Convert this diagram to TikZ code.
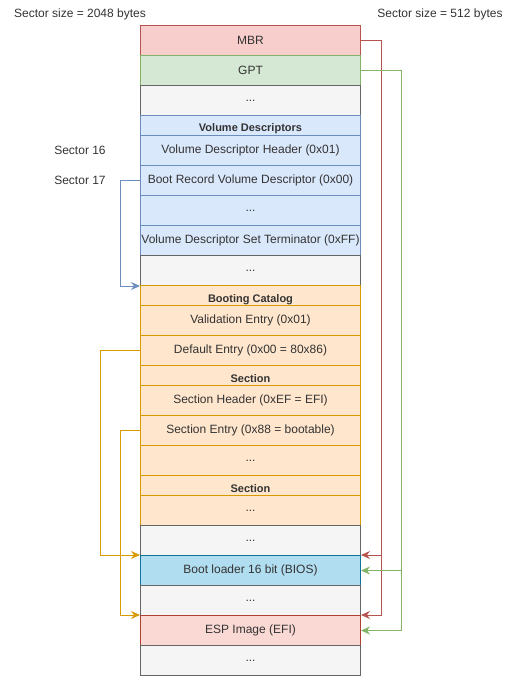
\documentclass[tikz,border=0pt]{standalone}
\usepackage{fontspec}
\setmainfont{Liberation Sans}
\usetikzlibrary{arrows.meta}
\definecolor{txt}{HTML}{333333}
\definecolor{redF}{HTML}{F8CECC}\definecolor{redS}{HTML}{B85450}
\definecolor{grnF}{HTML}{D5E8D4}\definecolor{grnS}{HTML}{82B366}
\definecolor{gryF}{HTML}{F5F5F5}\definecolor{gryS}{HTML}{666666}
\definecolor{bluF}{HTML}{DAE8FC}\definecolor{bluS}{HTML}{6C8EBF}
\definecolor{orgF}{HTML}{FFE6CC}\definecolor{orgS}{HTML}{D79B00}
\definecolor{cyaF}{HTML}{B1DDF0}\definecolor{cyaS}{HTML}{10739E}
\definecolor{espF}{HTML}{FAD9D5}\definecolor{espS}{HTML}{AE4132}
\tikzset{
  row/.style={rectangle, anchor=north west, minimum width=220pt, minimum height=30pt,
    inner sep=0pt, line width=1pt, text=txt, font=\fontsize{12}{14}\selectfont},
  hdr/.style={row, minimum height=20pt, text height=13pt, text depth=0pt,
    font=\fontsize{11}{13}\selectfont\bfseries},
  rowred/.style={fill=redF, draw=redS},
  rowgrn/.style={fill=grnF, draw=grnS},
  rowgry/.style={fill=gryF, draw=gryS},
  rowblu/.style={fill=bluF, draw=bluS},
  roworg/.style={fill=orgF, draw=orgS},
  rowcya/.style={fill=cyaF, draw=cyaS},
  rowesp/.style={fill=espF, draw=espS},
  lbl/.style={text=txt, font=\fontsize{12}{14}\selectfont, inner sep=0pt},
  conn/.style={line width=1pt, -{Stealth[length=9pt,width=8pt,inset=3pt]}},
}
\begin{document}
\begin{tikzpicture}[x=1pt,y=-1pt]
\useasboundingbox (0,0) rectangle (516,676);
\node[row,rowred] (mbr) at (140,25) {MBR};
\node[row,rowgrn] (gpt) at (140,55) {GPT};
\node[row,rowgry] (g1) at (140,85) {...};
\node[hdr,rowblu] (vdh) at (140,115) {Volume Descriptors};
\node[row,rowblu] (vd1) at (140,135) {Volume Descriptor Header (0x01)};
\node[row,rowblu] (vd2) at (140,165) {Boot Record Volume Descriptor (0x00)};
\node[row,rowblu] (vd3) at (140,195) {...};
\node[row,rowblu] (vd4) at (140,225) {Volume Descriptor Set Terminator (0xFF)};
\node[row,rowgry] (g2) at (140,255) {...};
\node[hdr,roworg] (bch) at (140,285) {Booting Catalog};
\node[row,roworg] (ve) at (140,305) {Validation Entry (0x01)};
\node[row,roworg] (de) at (140,335) {Default Entry (0x00 = 80x86)};
\node[hdr,roworg] (sh1) at (140,365) {Section};
\node[row,roworg] (shd) at (140,385) {Section Header (0xEF = EFI)};
\node[row,roworg] (se) at (140,415) {Section Entry (0x88 = bootable)};
\node[row,roworg] (sd1) at (140,445) {...};
\node[hdr,roworg] (sh2) at (140,475) {Section};
\node[row,roworg] (sd2) at (140,495) {...};
\node[row,rowgry] (g3) at (140,525) {...};
\node[row,rowcya] (bl) at (140,555) {Boot loader 16 bit (BIOS)};
\node[row,rowgry] (g4) at (140,585) {...};
\node[row,rowesp] (esp) at (140,615) {ESP Image (EFI)};
\node[row,rowgry] (g5) at (140,645) {...};

\node[lbl] (ss1) at (80,14) {Sector size = 2048 bytes};
\node[lbl] (ss2) at (440,14) {Sector size = 512 bytes};
\node[lbl] (s16) at (80,150) {Sector 16};
\node[lbl] (s17) at (80,180) {Sector 17};

\draw[conn,redS] (mbr.east) -- ([xshift=20pt]mbr.east) |- (bl.north east);
\draw[conn,redS] ([xshift=20pt]mbr.east) |- (esp.north east);
\draw[conn,grnS] (gpt.east) -- ([xshift=40pt]gpt.east) |- (bl.east);
\draw[conn,grnS] ([xshift=40pt]gpt.east) |- (esp.east);
\draw[conn,bluS] (vd2.west) -- ([xshift=-20pt]vd2.west) |- (g2.south west);
\draw[conn,orgS] (de.west) -- ([xshift=-40pt]de.west) |- (bl.north west);
\draw[conn,orgS] (se.west) -- ([xshift=-20pt]se.west) |- (esp.north west);
\end{tikzpicture}
\end{document}
